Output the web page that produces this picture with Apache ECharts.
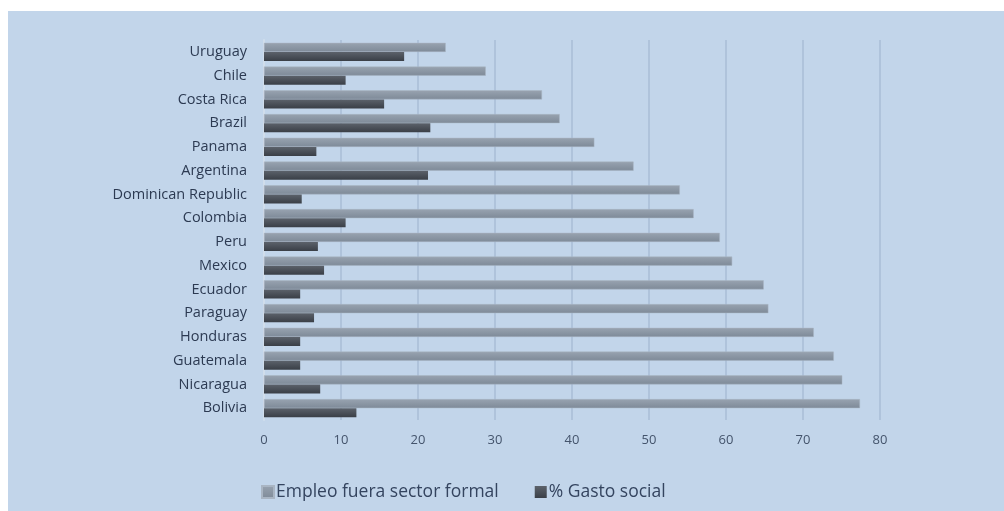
<!DOCTYPE html>
<html>
<head>
<meta charset="utf-8">
<script src="https://cdn.jsdelivr.net/npm/echarts@6/dist/echarts.min.js"></script>
<style>
html,body{margin:0;padding:0;background:#ffffff;}
#bg{position:absolute;left:8px;top:11px;width:996px;height:500px;background:#c2d5ea;}
#chart{position:absolute;left:0;top:0;width:1004px;height:511px;}
</style>
</head>
<body>
<div id="bg"></div>
<div id="chart"></div>
<script>
const countries = ["Uruguay","Chile","Costa Rica","Brazil","Panama","Argentina","Dominican Republic","Colombia","Peru","Mexico","Ecuador","Paraguay","Honduras","Guatemala","Nicaragua","Bolivia"];
const empleoFuera = [23.6,28.8,36.1,38.4,42.9,48.0,54.0,55.8,59.2,60.8,64.9,65.5,71.4,74.0,75.1,77.4];
const gastoSocial = [18.2,10.6,15.6,21.6,6.8,21.3,4.9,10.6,7.0,7.8,4.7,6.5,4.7,4.7,7.3,12.0];
const seriesNames = ["Empleo fuera sector formal","% Gasto social"];

const chart = echarts.init(document.getElementById('chart'), null, {renderer:'canvas'});
const font = '"Open Sans", sans-serif';
chart.setOption({
  animation:false,
  backgroundColor:'transparent',
  grid:{left:264,right:124,top:40,bottom:91,containLabel:false},
  legend:{
    bottom:5,left:256,itemWidth:12,itemHeight:12,itemGap:36,icon:'rect',
    textStyle:{fontFamily:font,fontSize:17.5,color:'#34445f',padding:[0,0,0,-3]},
    data:seriesNames
  },
  xAxis:{
    type:'value',min:0,max:80,interval:10,
    axisLine:{show:false},axisTick:{show:false},
    axisLabel:{fontFamily:font,fontSize:13,color:'#44546c',margin:14},
    splitLine:{lineStyle:{color:'#a8bcd6',width:1.5}}
  },
  yAxis:{
    type:'category',data:countries,inverse:true,
    axisLine:{show:true,lineStyle:{color:'#dce6f1',width:1.5}},
    axisTick:{show:false},
    axisLabel:{fontFamily:font,fontSize:14.5,fontWeight:500,color:'#2c3a52',margin:17}
  },
  series:[
    {name:seriesNames[0],type:'bar',data:empleoFuera,barGap:'0%',barCategoryGap:'24%',
      itemStyle:{color:new echarts.graphic.LinearGradient(0,0,0,1,[{offset:0,color:'#98a3b0'},{offset:1,color:'#7e8a98'}]),borderColor:'#a9b5c3',borderWidth:0.5}},
    {name:seriesNames[1],type:'bar',data:gastoSocial,
      itemStyle:{color:new echarts.graphic.LinearGradient(0,0,0,1,[{offset:0,color:'#5c626b'},{offset:1,color:'#3a3f47'}])}}
  ]
});
</script>
</body>
</html>
